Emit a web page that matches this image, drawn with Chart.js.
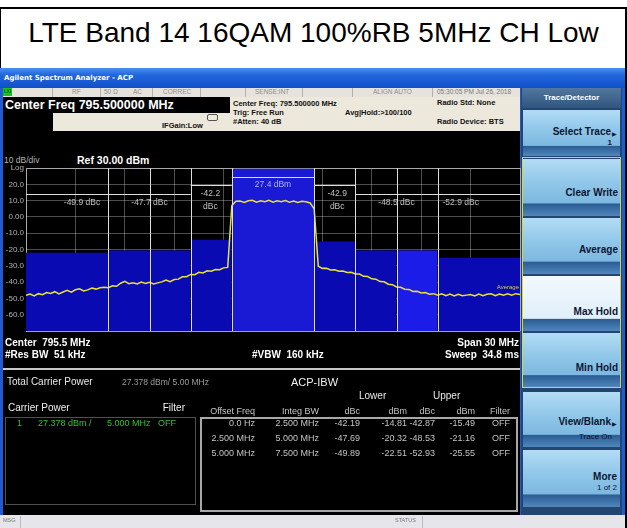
<!DOCTYPE html>
<html>
<head>
<meta charset="utf-8">
<title>LTE Band 14 16QAM 100%RB 5MHz CH Low</title>
<script src="https://cdn.jsdelivr.net/npm/chart.js@4.4.1/dist/chart.umd.min.js"></script>
<style>
  html, body { margin: 0; padding: 0; background: #fff; }
  #page { position: relative; width: 627px; height: 528px; overflow: hidden; background: #fff;
          font-family: Arial, "Liberation Sans", sans-serif; }
  .b { position: absolute; }
  .t { position: absolute; white-space: nowrap; line-height: 1; transform: translateY(-50%); }
  .hdr { font-weight: bold; font-size: 7.5px; color: #111; }
  .st { font-size: 6.5px; color: #8c8c8c; }
  .sep { position: absolute; top: 88px; width: 1px; height: 9px; background: #b4b0a8; }
  .wb { font-weight: bold; font-size: 10px; color: #fff; }
  .tbl { font-size: 9px; color: #c4c4c4; }
  .grn { font-size: 9px; color: #33c233; }
  .btn { position: absolute; left: 523px; width: 97px;
         background: linear-gradient(to bottom, #b3dcf4 0%, #92c8ea 40%, #7cb8e0 77%, #2b5d93 79%, #4f87bd 100%); }
  .btn.sel { background: linear-gradient(to bottom, #f2f9fe 0%, #e0effa 77%, #2b5d93 79%, #4f87bd 100%); }
  .bl { position: absolute; right: 8px; white-space: nowrap; line-height: 1; transform: translateY(-50%);
        font-weight: bold; font-size: 10px; color: #0d1533; }
  .bs { position: absolute; right: 8px; white-space: nowrap; line-height: 1; transform: translateY(-50%);
        font-size: 8px; color: #0d1533; }
</style>
</head>
<body>
<div id="page">
  <!-- title frame -->
  <div class="b" style="left:0;top:7px;width:627px;height:2px;background:#000"></div>
  <div class="b" style="left:0;top:7px;width:1px;height:62px;background:#000"></div>
  <div class="b" style="left:625px;top:7px;width:2px;height:521px;background:#000"></div>
  <div class="b" style="left:0;top:13px;width:627px;text-align:center;font-size:28px;line-height:40px;color:#000">LTE Band 14 16QAM 100%RB 5MHz CH Low</div>

  <!-- analyzer window -->
  <div class="b" style="left:0;top:68px;width:625px;height:460px;background:#1f5bd4"></div>
  <div class="b" style="left:0;top:68px;width:625px;height:20px;background:linear-gradient(to bottom,#4a8ef2 0%,#2266dc 35%,#0f4fc8 100%)"></div>
  <div class="t" style="left:4px;top:78px;font-size:7px;font-weight:bold;color:#fff;font-family:'DejaVu Sans',sans-serif">Agilent Spectrum Analyzer - ACP</div>

  <!-- status row -->
  <div class="b" style="left:3px;top:88px;width:517px;height:9px;background:#e6e3dc"></div>
  <div class="b" style="left:3px;top:88px;width:9px;height:8px;background:#1cc21c"></div>
  <div class="t" style="left:4px;top:92px;font-size:4.5px;color:#063;font-weight:bold">LXI</div>
  <div class="sep" style="left:52px"></div>
  <div class="sep" style="left:100px"></div>
  <div class="sep" style="left:152px"></div>
  <div class="sep" style="left:200px"></div>
  <div class="sep" style="left:245px"></div>
  <div class="sep" style="left:302px"></div>
  <div class="sep" style="left:352px"></div>
  <div class="sep" style="left:432px"></div>
  <div class="t st" style="left:72px;top:92px">RF</div>
  <div class="t st" style="left:104px;top:92px">50 Ω</div>
  <div class="t st" style="left:133px;top:92px">AC</div>
  <div class="t st" style="left:163px;top:92px">CORREC</div>
  <div class="t st" style="left:255px;top:92px">SENSE:INT</div>
  <div class="t st" style="left:373px;top:92px">ALIGN AUTO</div>
  <div class="t st" style="left:437px;top:92px;color:#777">05:30:05 PM Jul 26, 2018</div>

  <!-- settings header -->
  <div class="b" style="left:3px;top:97px;width:517px;height:34px;background:#ece8dc"></div>
  <div class="b" style="left:3px;top:97px;width:227px;height:16px;background:#000"></div>
  <div class="b" style="left:3px;top:113px;width:50px;height:18px;background:#000"></div>
  <div class="t" style="left:5px;top:105px;font-size:12.5px;font-weight:bold;color:#fff">Center Freq 795.500000 MHz</div>
  <div class="b" style="left:207px;top:114px;width:9px;height:5px;border:1px solid #555;border-radius:2px"></div>
  <div class="t hdr" style="left:162px;top:126px">IFGain:Low</div>
  <div class="t hdr" style="left:233px;top:104px">Center Freq: 795.500000 MHz</div>
  <div class="t hdr" style="left:233px;top:113px">Trig: Free Run</div>
  <div class="t hdr" style="left:233px;top:122px">#Atten: 40 dB</div>
  <div class="t hdr" style="left:345px;top:113px">Avg|Hold:&gt;100/100</div>
  <div class="t hdr" style="left:437px;top:103px">Radio Std: None</div>
  <div class="t hdr" style="left:437px;top:122px">Radio Device: BTS</div>

  <!-- screen -->
  <div class="b" style="left:3px;top:131px;width:517px;height:384px;background:#000"></div>
  <div class="t" style="left:4px;top:160px;font-size:8.5px;color:#b4b4b4">10 dB/div</div>
  <div class="t" style="left:77px;top:160px;font-size:10.5px;font-weight:bold;color:#fff">Ref 30.00 dBm</div>

  <div class="b" style="left:2px;top:158px;width:520px;height:180px"><canvas id="acpChart" width="520" height="180"></canvas></div>

  <div class="t wb" style="left:5px;top:343px">Center&nbsp; 795.5 MHz</div>
  <div class="t wb" style="left:5px;top:355px">#Res BW&nbsp; 51 kHz</div>
  <div class="t wb" style="left:252px;top:355px">#VBW&nbsp; 160 kHz</div>
  <div class="t wb" style="right:108px;top:343px">Span 30 MHz</div>
  <div class="t wb" style="right:108px;top:355px">Sweep&nbsp; 34.8 ms</div>
  <div class="b" style="left:3px;top:368px;width:517px;height:2px;background:#c8c8c8"></div>

  <div class="t" style="left:7px;top:382px;font-size:10px;color:#e8e8e8">Total Carrier Power</div>
  <div class="t" style="left:122px;top:382px;font-size:8.5px;color:#9c9c9c">27.378 dBm/ 5.00 MHz</div>
  <div class="t" style="left:291px;top:382px;font-size:11px;color:#f0f0f0">ACP-IBW</div>
  <div class="t" style="left:359px;top:396px;font-size:10px;color:#e8e8e8">Lower</div>
  <div class="t" style="left:433px;top:396px;font-size:10px;color:#e8e8e8">Upper</div>
  <div class="t" style="left:8px;top:408px;font-size:10px;color:#f0f0f0">Carrier Power</div>
  <div class="t" style="right:442px;top:408px;font-size:10px;color:#f0f0f0">Filter</div>

  <div class="b" style="left:5px;top:417px;width:191px;height:88px;border:1px solid #505050;box-sizing:border-box"></div>
  <div class="t grn" style="left:17px;top:423px">1</div>
  <div class="t grn" style="left:38px;top:423px">27.378 dBm /</div>
  <div class="t grn" style="left:107px;top:423px">5.000 MHz</div>
  <div class="t grn" style="left:158px;top:423px">OFF</div>

  <div class="b" style="left:200px;top:417px;width:318px;height:95px;border:2px solid #a8a8a8;box-sizing:border-box"></div>
  <div id="acpTable"></div>

  <!-- soft keys -->
  <div class="b" style="left:521px;top:88px;width:101px;height:427px;background:#23456f"></div>
  <div class="b" style="left:622px;top:88px;width:3px;height:427px;background:#1f5bd4"></div>
  <div class="b" style="left:522px;top:88px;width:99px;height:20px;background:linear-gradient(to bottom,#52779f,#30567f)"></div>
  <div class="t" style="left:522px;width:99px;text-align:center;top:98px;font-size:8px;font-weight:bold;color:#fff">Trace/Detector</div>

  <div class="btn" style="top:110px;height:46px"><div class="bl" style="top:22px;right:9px">Select Trace</div><div class="bs" style="top:24px;right:3px;font-size:6px">&#9654;</div><div class="bs" style="top:33px;right:8px;font-weight:bold">1</div></div>
  <div class="b" style="left:522px;top:157px;width:99px;height:231px;border:1px solid #d8d83c;box-sizing:border-box"></div>
  <div class="btn" style="top:159px;height:57px"><div class="bl" style="top:34px;right:2px">Clear Write</div></div>
  <div class="btn" style="top:218px;height:56px"><div class="bl" style="top:32px;right:2px">Average</div></div>
  <div class="btn sel" style="top:276px;height:55px"><div class="bl" style="top:36px;right:2px">Max Hold</div></div>
  <div class="btn" style="top:333px;height:54px"><div class="bl" style="top:35px;right:2px">Min Hold</div></div>
  <div class="btn" style="top:392px;height:55px"><div class="bl" style="top:30px;right:9px">View/Blank</div><div class="bs" style="top:32px;right:3px;font-size:6px">&#9654;</div><div class="bs" style="top:45px;right:8px">Trace On</div></div>
  <div class="btn" style="top:450px;height:57px"><div class="bl" style="top:27px;right:3px">More</div><div class="bs" style="top:38px;right:3px">1 of 2</div></div>

  <!-- message bar -->
  <div class="b" style="left:0;top:515px;width:625px;height:13px;background:#e6e5ea"></div>
  <div class="t" style="left:3px;top:521px;font-size:5.5px;color:#777">MSG</div>
  <div class="b" style="left:20px;top:516px;width:1px;height:12px;background:#bbb"></div>
  <div class="t" style="left:395px;top:521px;font-size:5.5px;color:#777">STATUS</div>
  <div class="b" style="left:422px;top:516px;width:1px;height:12px;background:#bbb"></div>
</div>

<script>
// Spectrum trace (dBm), one point every 0.25 MHz across the 30 MHz span
const traceStartMHz = 780.5;
const traceStepMHz = 0.25;
const traceLevels = [
  -48.0, -47.2, -48.4, -47.0, -47.6, -46.3, -46.9, -45.8, -47.2, -46.0,
  -45.0, -46.1, -44.6, -44.0, -45.3, -44.7, -43.5, -44.2, -43.4, -43.0,
  -43.3, -42.2, -42.5, -40.6, -39.4, -40.9, -40.3, -41.0, -39.9, -40.7,
  -40.0, -41.1, -40.4, -39.8, -38.6, -39.6, -38.3, -38.1, -36.7, -36.6,
  -35.2, -35.4, -33.9, -34.3, -33.0, -33.3, -32.2, -32.3, -31.2, -30.9,
  7.0, 9.6, 9.8, 8.9, 9.9, 10.2, 9.1, 9.9, 9.3, 10.2,
  9.0, 9.9, 9.3, 10.0, 9.1, 9.8, 8.9, 9.6, 9.3, 8.6,
  5.0, -30.2, -31.5, -31.4, -32.5, -32.3, -33.2, -33.1, -34.0, -33.9,
  -34.9, -35.0, -36.4, -36.5, -37.9, -38.1, -39.6, -39.7, -41.2, -41.5,
  -42.9, -43.1, -44.3, -44.4, -45.6, -45.5, -46.6, -46.3, -47.3, -47.0,
  -47.9, -47.1, -48.2, -47.3, -48.4, -47.4, -48.3, -47.9, -47.5, -48.4,
  -47.3, -48.2, -47.4, -47.1, -48.2, -47.2, -48.0, -47.1, -47.9, -47.0,
  -47.6
];

// Axis grid / tick labels
const xGridMHz = [780.5, 783.5, 786.5, 789.5, 792.5, 795.5, 798.5, 801.5, 804.5, 807.5, 810.5];
const yTickValues = [30, 20, 10, 0, -10, -20, -30, -40, -50, -60, -70];
const yTickText = ["Log", "20.0", "10.0", "0.00", "-10.0", "-20.0", "-30.0", "-40.0", "-50.0", "-60.0", ""];

// ACP power bars
const bandNames = ["Lower C", "Lower B", "Lower A", "Carrier", "Upper A", "Upper B", "Upper B", "Upper C"];
const bandStartMHz = [780.5, 785.5, 790.5, 793.0, 798.0, 800.5, 803.0, 805.5];
const bandEndMHz = [785.5, 790.5, 793.0, 798.0, 800.5, 803.0, 805.5, 810.5];
const bandLevels = [-22.0, -20.5, -14.0, 29.5, -15.0, -20.5, -20.5, -25.0];
const bandColors = ["#0a0ab2", "#0a0ab2", "#0a0ab2", "#1a1ad4", "#0a0ab2", "#0a0ab2", "#1c1ce8", "#0a0ab2"];

// Integration band markers
const markerMHz = [785.5, 788.0, 790.5, 793.0, 798.0, 800.5, 803.0, 805.5];
const bracketStartMHz = [793.0, 790.5, 798.0, 780.5, 800.5];
const bracketEndMHz = [798.0, 793.0, 800.5, 790.5, 810.5];
const bracketLevels = [24.2, 19.7, 19.7, 14.2, 14.2];
const labelText = ["27.4 dBm", "-42.2\ndBc", "-42.9\ndBc", "-49.9 dBc", "-47.7 dBc", "-48.5 dBc", "-52.9 dBc"];
const labelMHz = [795.5, 791.7, 799.4, 783.9, 788.0, 803.0, 806.9];
const labelLevels = [19.7, 14.4, 14.4, 8.8, 8.8, 8.8, 8.8];

// Result table
const offsetFreq = ["0.0 Hz", "2.500 MHz", "5.000 MHz"];
const integBW = ["2.500 MHz", "5.000 MHz", "7.500 MHz"];
const lowerDbc = ["-42.19", "-47.69", "-49.89"];
const lowerDbm = ["-14.81", "-20.32", "-22.51"];
const upperDbc = ["-42.87", "-48.53", "-52.93"];
const upperDbm = ["-15.49", "-21.16", "-25.55"];

// build the table text
const tableHost = document.getElementById("acpTable");
const colRight = [255, 319, 360, 407, 435, 475, 510];
const heads = ["Offset Freq", "Integ BW", "dBc", "dBm", "dBc", "dBm", "Filter"];
function addCell(text, right, y) {
  const d = document.createElement("div");
  d.className = "t tbl";
  d.style.right = (627 - right) + "px";
  d.style.top = y + "px";
  d.textContent = text;
  tableHost.appendChild(d);
}
heads.forEach((h, i) => addCell(h, colRight[i], 411));
offsetFreq.forEach((f, r) => {
  const y = 423 + r * 15;
  [f, integBW[r], lowerDbc[r], lowerDbm[r], upperDbc[r], upperDbm[r], "OFF"].forEach((v, i) => addCell(v, colRight[i], y));
});

// overlay: band edge lines, brackets and dBc readouts
const acpOverlay = {
  id: "acpOverlay",
  afterDraw(chart) {
    const { ctx, chartArea: a, scales: { x, y } } = chart;
    ctx.save();
    ctx.strokeStyle = "#dedede";
    ctx.lineWidth = 1;
    markerMHz.forEach((f) => {
      const px = Math.round(x.getPixelForValue(f)) + 0.5;
      ctx.beginPath();
      ctx.moveTo(px, a.top);
      ctx.lineTo(px, a.bottom);
      ctx.stroke();
    });
    bracketStartMHz.forEach((s, i) => {
      const py = Math.round(y.getPixelForValue(bracketLevels[i])) + 0.5;
      ctx.beginPath();
      ctx.moveTo(x.getPixelForValue(s), py);
      ctx.lineTo(x.getPixelForValue(bracketEndMHz[i]), py);
      ctx.stroke();
    });
    ctx.textAlign = "center";
    ctx.textBaseline = "middle";
    ctx.font = "8.5px Arial, 'Liberation Sans', sans-serif";
    labelText.forEach((t, i) => {
      ctx.fillStyle = i === 0 ? "#b0b4f4" : "#c0c0c0";
      t.split("\n").forEach((line, k) => {
        ctx.fillText(line, x.getPixelForValue(labelMHz[i]), y.getPixelForValue(labelLevels[i]) + k * 13);
      });
    });
    ctx.textAlign = "right";
    ctx.font = "6px Arial, sans-serif";
    ctx.fillStyle = "#d6cf3c";
    ctx.fillText("Average", x.getPixelForValue(810.5) - 1, y.getPixelForValue(-43.0));
    ctx.restore();
  }
};

const gridColor = (c) => (c.index === 0 || c.index === 10) ? "#a8a8a8" : "rgba(255,255,255,0.30)";

const datasets = [{
  label: "Trace 1",
  data: traceLevels.map((v, i) => ({ x: traceStartMHz + i * traceStepMHz, y: v })),
  borderColor: "#e8e23a",
  borderWidth: 1.5,
  pointRadius: 0,
  fill: false,
  tension: 0
}].concat(bandStartMHz.map((s, i) => ({
  label: bandNames[i],
  data: [{ x: s, y: bandLevels[i] }, { x: bandEndMHz[i], y: bandLevels[i] }],
  borderColor: "transparent",
  borderWidth: 0,
  backgroundColor: bandColors[i],
  fill: "start",
  pointRadius: 0
})));

new Chart(document.getElementById("acpChart"), {
  type: "line",
  data: { datasets: datasets },
  options: {
    responsive: false,
    animation: false,
    devicePixelRatio: 1,
    layout: { padding: { top: 10, right: 2, bottom: 5, left: 0 } },
    plugins: { legend: { display: false }, tooltip: { enabled: false } },
    scales: {
      x: {
        type: "linear",
        min: 780.5,
        max: 810.5,
        z: 1,
        afterBuildTicks: (s) => { s.ticks = xGridMHz.map((v) => ({ value: v })); },
        afterFit: (s) => { s.height = 0; },
        ticks: { display: false },
        grid: { color: gridColor, drawTicks: false },
        border: { display: false }
      },
      y: {
        min: -70,
        max: 30,
        z: 1,
        afterBuildTicks: (s) => { s.ticks = yTickValues.map((v) => ({ value: v })); },
        afterFit: (s) => { s.width = 24; },
        ticks: {
          color: "#b4b4b4",
          padding: 2,
          font: { family: "Arial, 'Liberation Sans', sans-serif", size: 8 },
          callback: (v, i) => yTickText[i]
        },
        grid: { color: gridColor, drawTicks: false },
        border: { display: false }
      }
    }
  },
  plugins: [acpOverlay]
});
</script>
</body>
</html>
